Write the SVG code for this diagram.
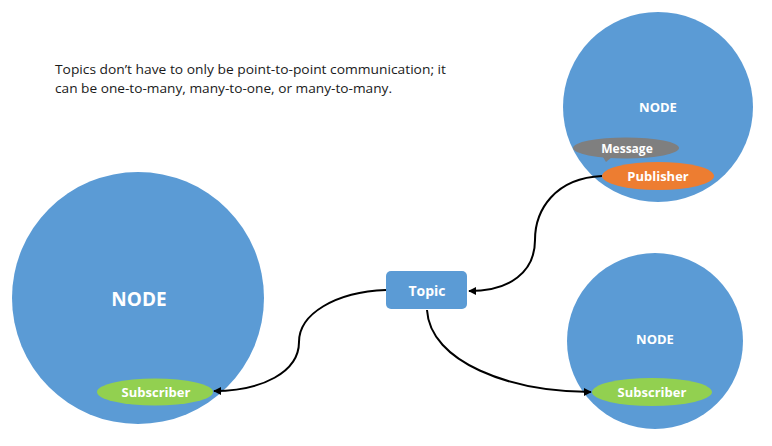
<svg xmlns="http://www.w3.org/2000/svg" width="772" height="446" viewBox="0 0 772 446">
  <style>
    .node { fill: #5B9BD5; }
    .lbl { font-family: "Open Sans", "Liberation Sans", sans-serif; font-weight: bold; fill: #FFFFFF; text-anchor: middle; dominant-baseline: central; }
    .conn { fill: none; stroke: #000000; stroke-width: 2; marker-end: url(#arrow); }
    .cap { font-family: "Open Sans", "Liberation Sans", sans-serif; font-size: 13.5px; fill: #1a1a1a; }
  </style>
  <defs>
    <marker id="arrow" viewBox="0 0 10 10" refX="9" refY="5" markerWidth="4" markerHeight="4" orient="auto" markerUnits="strokeWidth">
      <path d="M0,0 L10,5 L0,10 Z" fill="#000000"/>
    </marker>
  </defs>
  <rect width="772" height="446" fill="#FFFFFF"/>

  <g id="caption">
    <text class="cap" x="55" y="74" textLength="391" lengthAdjust="spacingAndGlyphs">Topics don’t have to only be point-to-point communication; it</text>
    <text class="cap" x="55" y="93" textLength="337" lengthAdjust="spacingAndGlyphs">can be one-to-many, many-to-one, or many-to-many.</text>
  </g>

  <g id="node-publisher">
    <circle class="node" cx="658" cy="107" r="95"/>
    <text class="lbl" x="658" y="107" font-size="13">NODE</text>
    <g id="message">
      <path d="M603,157 L606,162 L612,157 Z" fill="#7F7F7F"/>
      <ellipse cx="626" cy="148" rx="53" ry="10.5" fill="#7F7F7F"/>
      <text class="lbl" x="627" y="148.5" font-size="12">Message</text>
    </g>
    <g id="publisher">
      <ellipse cx="658" cy="176" rx="56" ry="14" fill="#ED7D31"/>
      <text class="lbl" x="658" y="176" font-size="13">Publisher</text>
    </g>
  </g>

  <g id="node-left">
    <circle class="node" cx="138" cy="298" r="126"/>
    <text class="lbl" x="139" y="299" font-size="19">NODE</text>
    <g id="subscriber-left">
      <ellipse cx="155" cy="392" rx="58" ry="13.5" fill="#92D050"/>
      <text class="lbl" x="156" y="392" font-size="13">Subscriber</text>
    </g>
  </g>

  <g id="node-right">
    <circle class="node" cx="655" cy="341" r="88"/>
    <text class="lbl" x="655" y="339" font-size="13">NODE</text>
    <g id="subscriber-right">
      <ellipse cx="652" cy="392" rx="60" ry="14" fill="#92D050"/>
      <text class="lbl" x="652" y="392" font-size="13">Subscriber</text>
    </g>
  </g>

  <g id="topic">
    <rect class="node" x="386" y="271" width="81" height="38" rx="5"/>
    <text class="lbl" x="427" y="290" font-size="14">Topic</text>
  </g>

  <g id="connectors">
    <path class="conn" d="M602,176 C555,178 535,210 535,240 C535,272 510,291 469,291"/>
    <path class="conn" d="M386,290 C335,292 299,314 299,342 C299,372 262,391 214,391"/>
    <path class="conn" d="M427,310 C430,362 510,392 591,392"/>
  </g>
</svg>
